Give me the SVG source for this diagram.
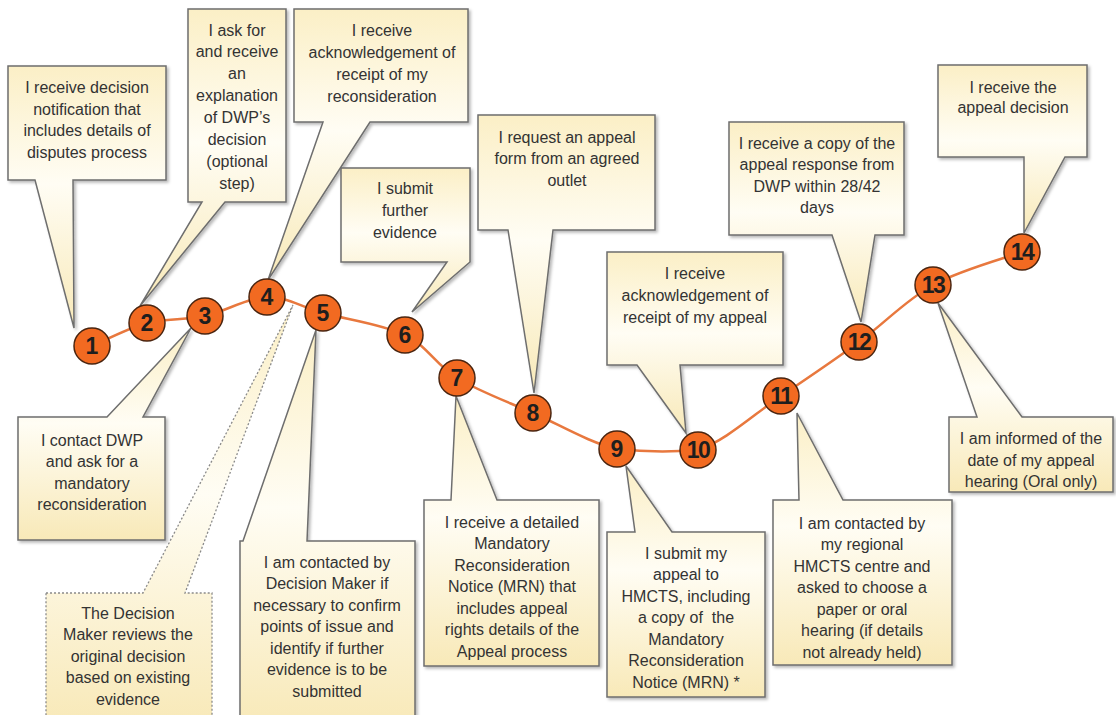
<svg xmlns="http://www.w3.org/2000/svg" width="1116" height="715" viewBox="0 0 1116 715">
<defs>
<linearGradient id="cream" x1="0" y1="0" x2="0" y2="1">
<stop offset="0" stop-color="#fbefc6"/>
<stop offset="0.45" stop-color="#fffdf4"/>
<stop offset="1" stop-color="#f8e9b8"/>
</linearGradient>
<filter id="sh" x="-10%" y="-10%" width="130%" height="130%">
<feDropShadow dx="2" dy="2" stdDeviation="1.5" flood-color="#000" flood-opacity="0.28"/>
</filter>
<style>
.box{fill:url(#cream);stroke:#6e6e6e;stroke-width:1.5;filter:url(#sh)}
.dash{fill:url(#cream);stroke:#8a8a8a;stroke-width:1.3;stroke-dasharray:2 2}
.t{font-family:"Liberation Sans",Arial,sans-serif;font-size:16px;fill:#333;text-anchor:middle}
.c{fill:#f26a21;stroke:#4a2510;stroke-width:1.5}
.n{font-family:"Liberation Sans",Arial,sans-serif;font-size:23px;font-weight:bold;fill:#1e1e1e;text-anchor:middle}
.curve{fill:none;stroke:#e8783e;stroke-width:2.5}
</style>
</defs>
<rect width="1116" height="715" fill="#ffffff"/>

<g id="connectors">
<path class="curve" d="M92,346 C101.2,342.2 128.2,328 147,323 C165.8,318 185,320.3 205,316 C225,311.7 247.3,297.5 267,297 C286.7,296.5 300,306.7 323,313 C346,319.3 382.7,324.2 405,335 C427.3,345.8 435.7,365 457,378 C478.3,391 506.3,401.2 533,413 C559.7,424.8 589.5,442.8 617,449 C645,452 672,452 698,450 C725.3,441.2 754.2,414 781,396 C807.8,378 833.7,360.5 859,342 C884.3,323.5 905.8,300 933,285 C960.2,270 1007.2,257.5 1022,252"/>
</g>

<g id="callout-1">
<path class="box" d="M8,66 H166 V180 H73 L74,328 L35,180 H8 Z"/>
<text class="t"><tspan x="87" y="93">I receive decision</tspan><tspan x="87" y="114.5">notification that</tspan><tspan x="87" y="136">includes details of</tspan><tspan x="87" y="157.5">disputes process</tspan></text>
</g>
<g id="callout-2">
<path class="box" d="M188,9 H286 V202 H225 L140,306 L202,202 H188 Z"/>
<text class="t"><tspan x="237" y="35.5">I ask for</tspan><tspan x="237" y="57.4">and receive</tspan><tspan x="237" y="79.3">an</tspan><tspan x="237" y="101.2">explanation</tspan><tspan x="237" y="123.1">of DWP’s</tspan><tspan x="237" y="145">decision</tspan><tspan x="237" y="166.9">(optional</tspan><tspan x="237" y="188.8">step)</tspan></text>
</g>
<g id="callout-4">
<path class="box" d="M294,9 H468 V122 H370 L268,280 L323,122 H294 Z"/>
<text class="t"><tspan x="382" y="35.5">I receive</tspan><tspan x="382" y="57.5">acknowledgement of</tspan><tspan x="382" y="79.5">receipt of my</tspan><tspan x="382" y="101.5">reconsideration</tspan></text>
</g>
<g id="callout-6">
<path class="box" d="M341,168 H470 V262 L412,312 L447,262 H341 Z"/>
<text class="t"><tspan x="405" y="193.5">I submit</tspan><tspan x="405" y="215.5">further</tspan><tspan x="405" y="237.5">evidence</tspan></text>
</g>
<g id="callout-8">
<path class="box" d="M478,115 H655 V230 H553 L534,393 L508,230 H478 Z"/>
<text class="t"><tspan x="567" y="142.5">I request an appeal</tspan><tspan x="567" y="164">form from an agreed</tspan><tspan x="567" y="185.5">outlet</tspan></text>
</g>
<g id="callout-10">
<path class="box" d="M607,252 H783 V365 H680 L686,433 L637,365 H607 Z"/>
<text class="t"><tspan x="695" y="278.5">I receive</tspan><tspan x="695" y="300.5">acknowledgement of</tspan><tspan x="695" y="322.5">receipt of my appeal</tspan></text>
</g>
<g id="callout-12">
<path class="box" d="M729,122 H904 V235 H875 L861,322 L832,235 H729 Z"/>
<text class="t"><tspan x="817" y="148.5">I receive a copy of the</tspan><tspan x="817" y="170">appeal response from</tspan><tspan x="817" y="191.5">DWP within 28/42</tspan><tspan x="817" y="213">days</tspan></text>
</g>
<g id="callout-14">
<path class="box" d="M938,65 H1087 V157 H1065 L1024,233 L1024,157 H938 Z"/>
<text class="t"><tspan x="1013" y="92.5">I receive the</tspan><tspan x="1013" y="113">appeal decision</tspan></text>
</g>
<g id="callout-3">
<path class="box" d="M18,417 H107 L191,328 L143,417 H165 V540 H18 Z"/>
<text class="t"><tspan x="92" y="445.5">I contact DWP</tspan><tspan x="92" y="467">and ask for a</tspan><tspan x="92" y="488.5">mandatory</tspan><tspan x="92" y="510">reconsideration</tspan></text>
</g>
<g id="callout-decision-maker">
<path class="dash" d="M46,593 H143 L293,305 L185,593 H212 V725 H46 Z"/>
<text class="t"><tspan x="128" y="618.5">The Decision</tspan><tspan x="128" y="640">Maker reviews the</tspan><tspan x="128" y="661.5">original decision</tspan><tspan x="128" y="683">based on existing</tspan><tspan x="128" y="704.5">evidence</tspan></text>
</g>
<g id="callout-5">
<path class="box" d="M240,541 H243 L316,330 L307,541 H415 V725 H240 Z"/>
<text class="t"><tspan x="327" y="567.5">I am contacted by</tspan><tspan x="327" y="589">Decision Maker if</tspan><tspan x="327" y="610.5">necessary to confirm</tspan><tspan x="327" y="632">points of issue and</tspan><tspan x="327" y="653.5">identify if further</tspan><tspan x="327" y="675">evidence is to be</tspan><tspan x="327" y="696.5">submitted</tspan></text>
</g>
<g id="callout-7">
<path class="box" d="M424,500 H451 L456,396 L497,500 H599 V666 H424 Z"/>
<text class="t"><tspan x="512" y="527.5">I receive a detailed</tspan><tspan x="512" y="549">Mandatory</tspan><tspan x="512" y="570.5">Reconsideration</tspan><tspan x="512" y="592">Notice (MRN) that</tspan><tspan x="512" y="613.5">includes appeal</tspan><tspan x="512" y="635">rights details of the</tspan><tspan x="512" y="656.5">Appeal process</tspan></text>
</g>
<g id="callout-9">
<path class="box" d="M607,532 H635 L626,466 L672,532 H765 V697 H607 Z"/>
<text class="t"><tspan x="686" y="558.5">I submit my</tspan><tspan x="686" y="580">appeal to</tspan><tspan x="686" y="601.5">HMCTS, including</tspan><tspan x="686" y="623" xml:space="preserve">a copy of  the</tspan><tspan x="686" y="644.5">Mandatory</tspan><tspan x="686" y="666">Reconsideration</tspan><tspan x="686" y="687.5">Notice (MRN) *</tspan></text>
</g>
<g id="callout-11">
<path class="box" d="M773,500 H799 L797,413 L843,500 H952 V665 H773 Z"/>
<text class="t"><tspan x="862" y="528.5">I am contacted by</tspan><tspan x="862" y="550">my regional</tspan><tspan x="862" y="571.5">HMCTS centre and</tspan><tspan x="862" y="593">asked to choose a</tspan><tspan x="862" y="614.5">paper or oral</tspan><tspan x="862" y="636">hearing (if details</tspan><tspan x="862" y="657.5">not already held)</tspan></text>
</g>
<g id="callout-13">
<path class="box" d="M949,417 H977 L938,303 L1022,417 H1113 V492 H949 Z"/>
<text class="t"><tspan x="1031" y="443.5">I am informed of the</tspan><tspan x="1031" y="465.5">date of my appeal</tspan><tspan x="1031" y="487">hearing (Oral only)</tspan></text>
</g>

<g id="step-1"><circle class="c" cx="92" cy="346" r="18"/><text class="n" x="92" y="354">1</text></g>
<g id="step-2"><circle class="c" cx="147" cy="323" r="18"/><text class="n" x="147" y="331">2</text></g>
<g id="step-3"><circle class="c" cx="205" cy="316" r="18"/><text class="n" x="205" y="324">3</text></g>
<g id="step-4"><circle class="c" cx="267" cy="297" r="18"/><text class="n" x="267" y="305">4</text></g>
<g id="step-5"><circle class="c" cx="323" cy="313" r="18"/><text class="n" x="323" y="321">5</text></g>
<g id="step-6"><circle class="c" cx="405" cy="335" r="18"/><text class="n" x="405" y="343">6</text></g>
<g id="step-7"><circle class="c" cx="457" cy="378" r="18"/><text class="n" x="457" y="386">7</text></g>
<g id="step-8"><circle class="c" cx="533" cy="413" r="18"/><text class="n" x="533" y="421">8</text></g>
<g id="step-9"><circle class="c" cx="617" cy="449" r="18"/><text class="n" x="617" y="457">9</text></g>
<g id="step-10"><circle class="c" cx="698" cy="450" r="18"/><text class="n" x="698" y="458" letter-spacing="-1.5">10</text></g>
<g id="step-11"><circle class="c" cx="781" cy="396" r="18"/><text class="n" x="781" y="404" letter-spacing="-1.5">11</text></g>
<g id="step-12"><circle class="c" cx="859" cy="342" r="18"/><text class="n" x="859" y="350" letter-spacing="-1.5">12</text></g>
<g id="step-13"><circle class="c" cx="933" cy="285" r="18"/><text class="n" x="933" y="293" letter-spacing="-1.5">13</text></g>
<g id="step-14"><circle class="c" cx="1022" cy="252" r="18"/><text class="n" x="1022" y="260" letter-spacing="-1.5">14</text></g>
</svg>
